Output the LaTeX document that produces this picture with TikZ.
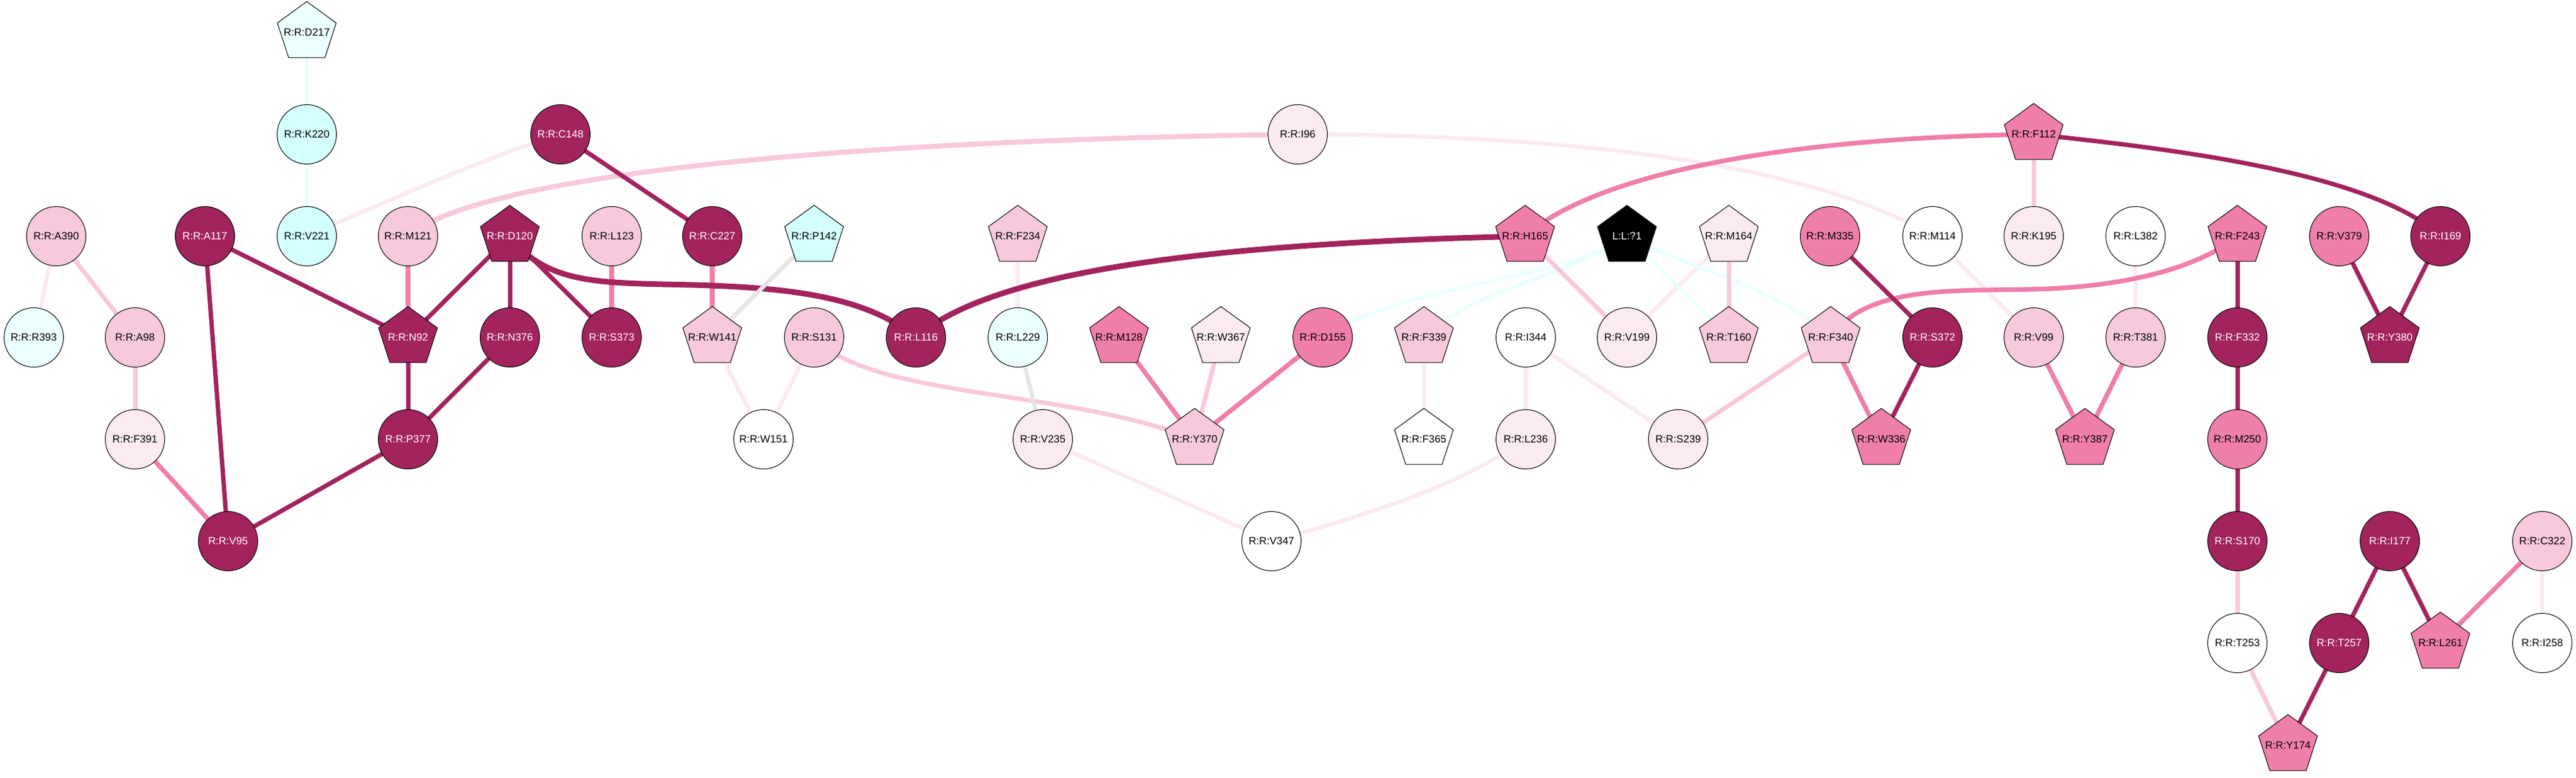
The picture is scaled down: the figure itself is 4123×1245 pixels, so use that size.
\documentclass[tikz,border=0pt]{standalone}
\usepackage{fontspec}
\setmainfont{Liberation Sans}
\usetikzlibrary{shapes.geometric,backgrounds}
\definecolor{cdark}{RGB}{162,35,94}
\definecolor{cmed}{RGB}{240,126,171}
\definecolor{clight}{RGB}{248,200,220}
\definecolor{cvlight}{RGB}{251,234,242}
\definecolor{ccyan}{RGB}{212,255,255}
\definecolor{cpcyan}{RGB}{235,255,255}
\definecolor{cgray}{RGB}{229,229,229}
\definecolor{cecyan}{RGB}{228,255,255}
\definecolor{cecyanl}{RGB}{236,255,255}
\newcommand{\lbl}[1]{\makebox[0pt]{#1}}
\begin{document}
\begin{tikzpicture}[x=0.5pt,y=-0.5pt,
 circ/.style={circle,draw=black,line width=0.5pt,minimum size=47.5pt,inner sep=0pt,font=\fontsize{8.4}{10}\selectfont},
 pent/.style={regular polygon,regular polygon sides=5,draw=black,line width=0.5pt,minimum size=49.5pt,inner sep=0pt,font=\fontsize{8.4}{10}\selectfont},
 nd/.style={fill=cdark,text=white},
 nm/.style={fill=cmed,text=black},
 nl/.style={fill=clight,text=black},
 nv/.style={fill=cvlight,text=black},
 nw/.style={fill=white,text=black},
 nc/.style={fill=ccyan,text=black},
 npc/.style={fill=cpcyan,text=black},
 nk/.style={fill=black,text=white},
 ed/.style={draw=cdark,line width=3.5pt},
 edt/.style={draw=cdark,line width=4.5pt},
 em/.style={draw=cmed,line width=3.7pt},
 el/.style={draw=clight,line width=3.5pt},
 ev/.style={draw=cvlight,line width=3.2pt},
 eg/.style={draw=cgray,line width=3.3pt},
 ec/.style={draw=cecyan,line width=2.5pt},
 ecl/.style={draw=cecyanl,line width=3pt}
]
\useasboundingbox (0,0) rectangle (4123,1245);
% row 0
\node[pent,npc] (D217) at (491,52) {\lbl{R:R:D217}};
% row 1
\node[circ,nc] (K220) at (491,215) {\lbl{R:R:K220}};
\node[circ,nd] (C148) at (897,215) {\lbl{R:R:C148}};
\node[circ,nv] (I96) at (2077,215) {\lbl{R:R:I96}};
\node[pent,nm] (F112) at (3255,215) {\lbl{R:R:F112}};
% row 2
\node[circ,nl] (A390) at (90,378) {\lbl{R:R:A390}};
\node[circ,nd] (A117) at (328,378) {\lbl{R:R:A117}};
\node[circ,nc] (V221) at (491,378) {\lbl{R:R:V221}};
\node[circ,nl] (M121) at (653,378) {\lbl{R:R:M121}};
\node[pent,nd] (D120) at (816,378) {\lbl{R:R:D120}};
\node[circ,nl] (L123) at (979,378) {\lbl{R:R:L123}};
\node[circ,nd] (C227) at (1140,378) {\lbl{R:R:C227}};
\node[pent,nc] (P142) at (1303,378) {\lbl{R:R:P142}};
\node[pent,nl] (F234) at (1629,378) {\lbl{R:R:F234}};
\node[pent,nm] (H165) at (2441,378) {\lbl{R:R:H165}};
\node[pent,nk] (L1) at (2604,378) {\lbl{L:L:?1}};
\node[pent,nv] (M164) at (2767,378) {\lbl{R:R:M164}};
\node[circ,nm] (M335) at (2929,378) {\lbl{R:R:M335}};
\node[circ,nw] (M114) at (3093,378) {\lbl{R:R:M114}};
\node[circ,nv] (K195) at (3255,378) {\lbl{R:R:K195}};
\node[circ,nw] (L382) at (3418,378) {\lbl{R:R:L382}};
\node[pent,nm] (F243) at (3581,378) {\lbl{R:R:F243}};
\node[circ,nm] (V379) at (3744,378) {\lbl{R:R:V379}};
\node[circ,nd] (I169) at (3906,378) {\lbl{R:R:I169}};
% row 3
\node[circ,npc] (R393) at (54,540) {\lbl{R:R:R393}};
\node[circ,nl] (A98) at (216,540) {\lbl{R:R:A98}};
\node[pent,nd] (N92) at (653,540) {\lbl{R:R:N92}};
\node[circ,nd] (N376) at (816,540) {\lbl{R:R:N376}};
\node[circ,nd] (S373) at (979,540) {\lbl{R:R:S373}};
\node[pent,nl] (W141) at (1140,540) {\lbl{R:R:W141}};
\node[circ,nl] (S131) at (1303,540) {\lbl{R:R:S131}};
\node[circ,nd] (L116) at (1466,540) {\lbl{R:R:L116}};
\node[circ,npc] (L229) at (1629,540) {\lbl{R:R:L229}};
\node[pent,nm] (M128) at (1791,540) {\lbl{R:R:M128}};
\node[pent,nv] (W367) at (1954,540) {\lbl{R:R:W367}};
\node[circ,nm] (D155) at (2117,540) {\lbl{R:R:D155}};
\node[pent,nl] (F339) at (2279,540) {\lbl{R:R:F339}};
\node[circ,nw] (I344) at (2442,540) {\lbl{R:R:I344}};
\node[circ,nv] (V199) at (2604,540) {\lbl{R:R:V199}};
\node[pent,nl] (T160) at (2767,540) {\lbl{R:R:T160}};
\node[pent,nl] (F340) at (2930,540) {\lbl{R:R:F340}};
\node[circ,nd] (S372) at (3093,540) {\lbl{R:R:S372}};
\node[circ,nl] (V99) at (3255,540) {\lbl{R:R:V99}};
\node[circ,nl] (T381) at (3418,540) {\lbl{R:R:T381}};
\node[circ,nd] (F332) at (3581,540) {\lbl{R:R:F332}};
\node[pent,nd] (Y380) at (3825,540) {\lbl{R:R:Y380}};
% row 4
\node[circ,nv] (F391) at (216,703) {\lbl{R:R:F391}};
\node[circ,nd] (P377) at (653,703) {\lbl{R:R:P377}};
\node[circ,nw] (W151) at (1222,703) {\lbl{R:R:W151}};
\node[circ,nv] (V235) at (1669,703) {\lbl{R:R:V235}};
\node[pent,nl] (Y370) at (1912,703) {\lbl{R:R:Y370}};
\node[pent,nw] (F365) at (2279,703) {\lbl{R:R:F365}};
\node[circ,nv] (L236) at (2442,703) {\lbl{R:R:L236}};
\node[circ,nv] (S239) at (2686,703) {\lbl{R:R:S239}};
\node[pent,nm] (W336) at (3011,703) {\lbl{R:R:W336}};
\node[pent,nm] (Y387) at (3337,703) {\lbl{R:R:Y387}};
\node[circ,nm] (M250) at (3581,703) {\lbl{R:R:M250}};
% row 5
\node[circ,nd] (V95) at (365,866) {\lbl{R:R:V95}};
\node[circ,nw] (V347) at (2035,866) {\lbl{R:R:V347}};
\node[circ,nd] (S170) at (3581,866) {\lbl{R:R:S170}};
\node[circ,nd] (I177) at (3825,866) {\lbl{R:R:I177}};
\node[circ,nl] (C322) at (4069,866) {\lbl{R:R:C322}};
% row 6
\node[circ,nw] (T253) at (3581,1029) {\lbl{R:R:T253}};
\node[circ,nd] (T257) at (3744,1029) {\lbl{R:R:T257}};
\node[pent,nm] (L261) at (3906,1029) {\lbl{R:R:L261}};
\node[circ,nw] (I258) at (4069,1029) {\lbl{R:R:I258}};
% row 7
\node[pent,nm] (Y174) at (3662,1193) {\lbl{R:R:Y174}};

\begin{pgfonlayer}{background}
\fill[white] (0,0) rectangle (4123,1245);
% very light
\draw[ev] (C148.center) .. controls (780,250) and (590,335) .. (V221.center);
\draw[ev] (A390.center) -- (R393.center);
\draw[ev] (W141.center) -- (W151.center);
\draw[ev] (S131.center) -- (W151.center);
\draw[ev] (F234.center) -- (L229.center);
\draw[ev] (V235.center) -- (V347.center);
\draw[ev] (I96.center) .. controls (2500,215) and (2900,260) .. (M114.center);
\draw[ev] (M164.center) -- (V199.center);
\draw[ev] (I344.center) -- (S239.center);
\draw[ev] (I344.center) -- (L236.center);
\draw[ev] (L236.center) .. controls (2330,780) and (2200,820) .. (V347.center);
\draw[ev] (F339.center) -- (F365.center);
\draw[ev] (M114.center) -- (V99.center);
\draw[ev] (L382.center) -- (T381.center);
\draw[ev] (C322.center) -- (I258.center);
% cyan
\draw[ec] (D217.center) -- (K220.center);
\draw[ec] (K220.center) -- (V221.center);
\draw[ecl] (L1.center) .. controls (2500,450) and (2260,450) .. (D155.center);
\draw[ecl] (L1.center) .. controls (2520,440) and (2360,460) .. (F339.center);
\draw[ecl] (L1.center) -- (T160.center);
\draw[ecl] (L1.center) .. controls (2700,430) and (2850,460) .. (F340.center);
% light
\draw[el,line width=4pt] (M121.center) .. controls (760,285) and (1300,225) .. (I96.center);
\draw[el] (A390.center) -- (A98.center);
\draw[el] (A98.center) -- (F391.center);
\draw[el] (S131.center) .. controls (1400,640) and (1700,620) .. (Y370.center);
\draw[el] (W367.center) -- (Y370.center);
\draw[el] (H165.center) -- (V199.center);
\draw[el] (M164.center) -- (T160.center);
\draw[el] (F340.center) -- (S239.center);
\draw[el] (F112.center) -- (K195.center);
\draw[el] (S170.center) -- (T253.center);
\draw[el] (T253.center) -- (Y174.center);
% medium
\draw[em] (F391.center) -- (V95.center);
\draw[em] (M121.center) -- (N92.center);
\draw[em] (L123.center) -- (S373.center);
\draw[em] (C227.center) -- (W141.center);
\draw[em] (M128.center) -- (Y370.center);
\draw[em] (D155.center) -- (Y370.center);
\draw[em] (H165.center) .. controls (2550,280) and (2850,220) .. (F112.center);
\draw[em] (F340.center) -- (W336.center);
\draw[em] (F340.center) .. controls (2990,450) and (3150,468) .. (3280,462) .. controls (3430,455) and (3530,420) .. (F243.center);
\draw[em] (V99.center) -- (Y387.center);
\draw[em] (T381.center) -- (Y387.center);
\draw[em] (C322.center) -- (L261.center);
% dark
\draw[ed] (C148.center) -- (C227.center);
\draw[ed] (A117.center) -- (V95.center);
\draw[ed] (A117.center) -- (N92.center);
\draw[ed] (D120.center) -- (N92.center);
\draw[ed] (D120.center) -- (N376.center);
\draw[ed] (D120.center) -- (S373.center);
\draw[ed] (N92.center) -- (P377.center);
\draw[ed] (N376.center) -- (P377.center);
\draw[ed] (P377.center) -- (V95.center);
\draw[ed] (M335.center) -- (S372.center);
\draw[ed] (S372.center) -- (W336.center);
\draw[ed] (F243.center) -- (F332.center);
\draw[ed] (V379.center) -- (Y380.center);
\draw[ed] (I169.center) -- (Y380.center);
\draw[ed] (F332.center) -- (M250.center);
\draw[ed] (M250.center) -- (S170.center);
\draw[ed] (I177.center) -- (T257.center);
\draw[ed] (I177.center) -- (L261.center);
\draw[ed] (T257.center) -- (Y174.center);
\draw[ed] (F112.center) .. controls (3500,240) and (3800,280) .. (I169.center);
\draw[edt] (D120.center) .. controls (870,450) and (950,452) .. (1060,455) .. controls (1250,458) and (1380,470) .. (L116.center);
\draw[edt] (L116.center) .. controls (1580,440) and (1900,390) .. (H165.center);
% gray
\draw[eg] (P142.center) -- (W141.center);
\draw[eg] (L229.center) -- (V235.center);
\end{pgfonlayer}
\end{tikzpicture}
\end{document}
